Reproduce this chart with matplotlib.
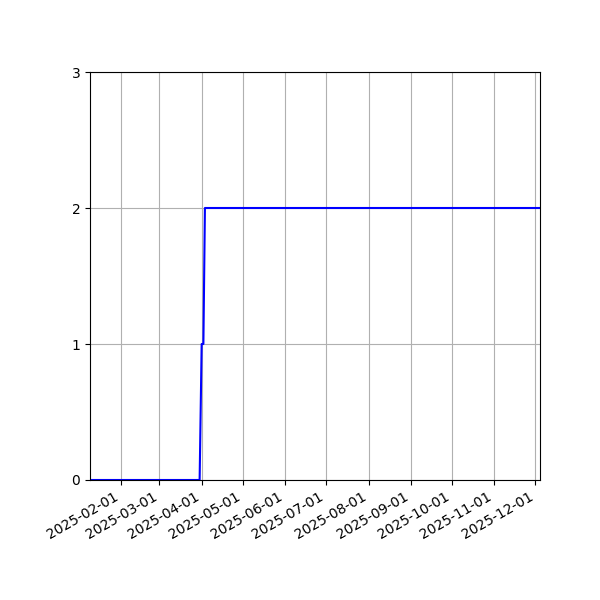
import numpy as np
import pandas as pd
import matplotlib
matplotlib.use('Agg')
import matplotlib.pyplot as plt
import matplotlib.dates as mdates

# key points of the series (value held between them)
dates = ['2025-01-09 08:00', '2025-03-30 12:00', '2025-04-01 00:00',
         '2025-04-02 06:00', '2025-04-03 09:00', '2025-12-04 10:00']
values = [0, 0, 1, 1, 2, 2]

x = pd.to_datetime(dates)

fig, ax = plt.subplots(figsize=(6, 6), dpi=100)
ax.plot(x, values, color='blue')

ax.set_xlim(x[0], x[-1])
ax.set_ylim(0, 3)
ax.set_yticks([0, 1, 2, 3])
ax.xaxis.set_major_locator(mdates.MonthLocator())
ax.xaxis.set_major_formatter(mdates.DateFormatter('%Y-%m-%d'))
ax.grid(True)

fig.autofmt_xdate()
fig.subplots_adjust(left=0.15, right=0.9, top=0.88, bottom=0.2)
fig.savefig('out.png')
